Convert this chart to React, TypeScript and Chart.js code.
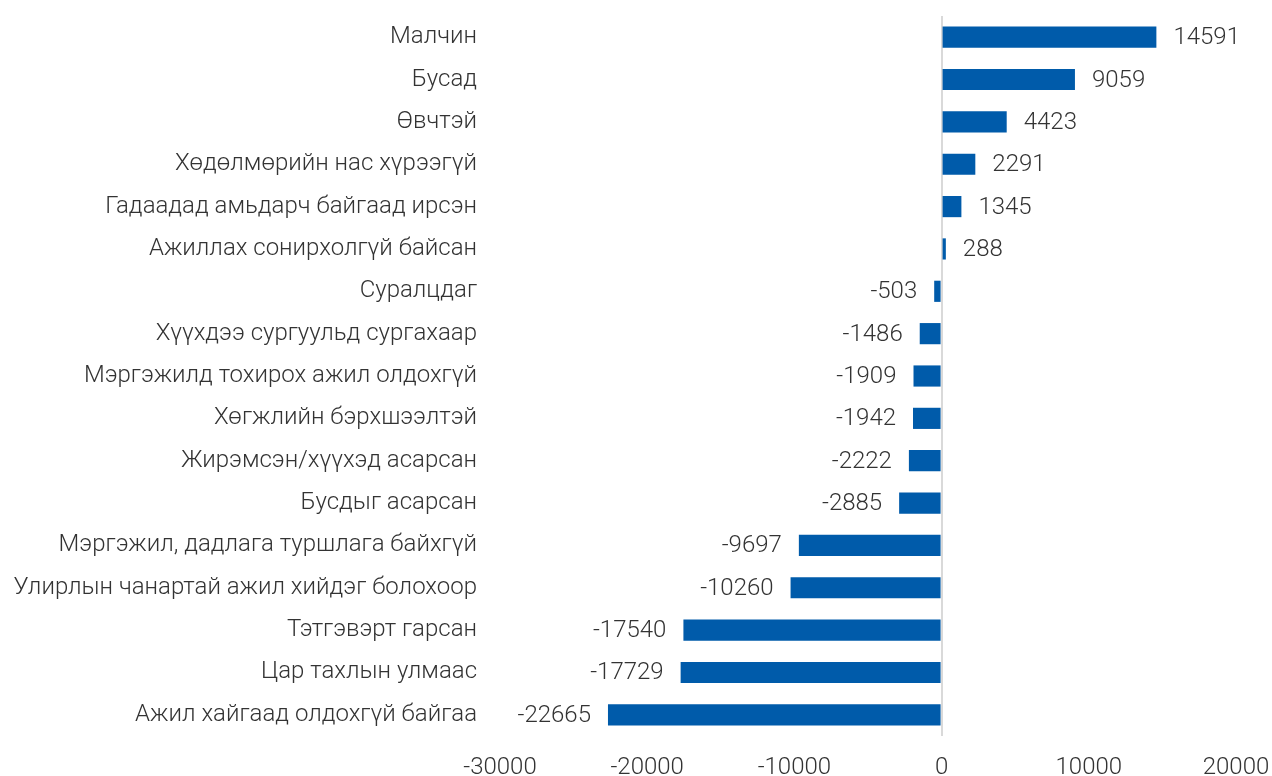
import React, { useEffect, useRef } from "react";
import { Chart, registerables } from "chart.js";

Chart.register(...registerables);

const categories: string[] = [
  "Малчин",
  "Бусад",
  "Өвчтэй",
  "Хөдөлмөрийн нас хүрээгүй",
  "Гадаадад амьдарч байгаад ирсэн",
  "Ажиллах сонирхолгүй байсан",
  "Суралцдаг",
  "Хүүхдээ сургуульд сургахаар",
  "Мэргэжилд тохирох ажил олдохгүй",
  "Хөгжлийн бэрхшээлтэй",
  "Жирэмсэн/хүүхэд асарсан",
  "Бусдыг асарсан",
  "Мэргэжил, дадлага туршлага байхгүй",
  "Улирлын чанартай ажил хийдэг болохоор",
  "Тэтгэвэрт гарсан",
  "Цар тахлын улмаас",
  "Ажил хайгаад олдохгүй байгаа",
];

const values: number[] = [
  14591, 9059, 4423, 2291, 1345, 288, -503, -1486, -1909, -1942, -2222, -2885,
  -9697, -10260, -17540, -17729, -22665,
];

const xMin = -30000;
const xMax = 20000;
const xStep = 10000;

const FONT = "Roboto";
const TEXT = "#333333";
const BAR = "#005BAA";
const FS = 24;

const labelPlugin = {
  id: "barValueLabels",
  afterDatasetsDraw(chart: any) {
    const ctx = chart.ctx;
    const meta = chart.getDatasetMeta(0);
    ctx.save();
    ctx.font = `300 ${FS}px ${FONT}`;
    ctx.fillStyle = TEXT;
    ctx.textBaseline = "middle";
    meta.data.forEach((el: any, i: number) => {
      const v = values[i];
      const { x, y } = el.getProps(["x", "y"], true);
      if (v >= 0) {
        ctx.textAlign = "left";
        ctx.fillText(String(v), x + 17, y + 1);
      } else {
        ctx.textAlign = "right";
        ctx.fillText(String(v), x - 17, y + 1);
      }
    });
    ctx.restore();
  },
};

export default function App() {
  const ref = useRef<HTMLCanvasElement | null>(null);
  useEffect(() => {
    document.body.style.margin = "0";
    if (!ref.current) return;
    const chart = new Chart(ref.current, {
      type: "bar",
      data: {
        labels: categories,
        datasets: [
          {
            data: values,
            backgroundColor: BAR,
            borderWidth: 0,
            barPercentage: 0.5,
            categoryPercentage: 1,
          },
        ],
      },
      options: {
        indexAxis: "y",
        animation: false,
        responsive: false,
        maintainAspectRatio: false,
        layout: { padding: { top: 16, right: 36, left: 0, bottom: 0 } },
        plugins: {
          legend: { display: false },
          tooltip: { enabled: false },
        },
        scales: {
          x: {
            min: xMin,
            max: xMax,
            ticks: {
              stepSize: xStep,
              color: TEXT,
              font: { family: FONT, size: FS, weight: "300" as any },
              padding: 18,
              callback: (v: any) => String(v),
            },
            grid: {
              drawTicks: false,
              lineWidth: 2,
              color: (c: any) => (c.tick && c.tick.value === 0 ? "#D9D9D9" : "rgba(0,0,0,0)"),
            },
            border: { display: false },
            afterFit(scale: any) {
              scale.height = 40;
              scale.paddingLeft = 0;
              scale.paddingRight = 0;
            },
          },
          y: {
            ticks: {
              color: TEXT,
              font: { family: FONT, size: FS, weight: "300" as any },
              padding: 23,
              autoSkip: false,
            },
            grid: { display: false, drawTicks: false },
            border: { display: false },
            afterFit(scale: any) {
              scale.width = 500;
              scale.paddingTop = 0;
              scale.paddingBottom = 0;
            },
          },
        },
      },
      plugins: [labelPlugin],
    });
    return () => chart.destroy();
  }, []);
  return (
    <div style={{ position: "absolute", left: 0, top: 0, width: 1272, height: 776 }}>
      <canvas ref={ref} width={1272} height={776} style={{ width: 1272, height: 776 }} />
    </div>
  );
}
